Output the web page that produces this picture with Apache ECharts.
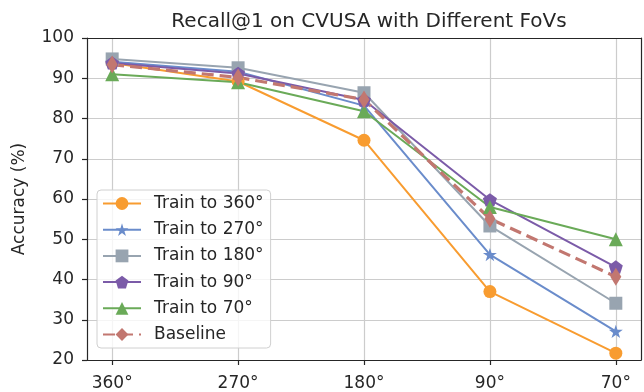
<!DOCTYPE html>
<html>
<head>
<meta charset="utf-8">
<script src="https://cdn.jsdelivr.net/npm/echarts@6/dist/echarts.min.js"></script>
<style>html,body{margin:0;padding:0;background:#fff}#c{width:644px;height:392px}</style>
</head>
<body>
<div id="c"></div>
<script>
const categories = ['360°', '270°', '180°', '90°', '70°'];
const yTicks = [20, 30, 40, 50, 60, 70, 80, 90, 100];
const train360 = [93.8, 89.2, 74.6, 37.0, 21.7];
const train270 = [94.1, 91.6, 83.2, 46.2, 27.1];
const train180 = [94.8, 92.6, 86.4, 53.3, 34.1];
const train90  = [93.8, 91.2, 84.6, 59.8, 43.1];
const train70  = [91.0, 89.0, 81.8, 58.0, 50.0];
const baseline = [93.4, 90.2, 84.7, 55.1, 40.7];

const STAR = 'path://M50,0 L61.23,34.55 L97.55,34.55 L68.17,55.9 L79.39,90.45 L50,69.1 L20.61,90.45 L31.83,55.9 L2.45,34.55 L38.77,34.55 Z';
const PENT = 'path://M50,0 L97.55,34.55 L79.39,90.45 L20.61,90.45 L2.45,34.55 Z';
const FONT = 'DejaVu Sans';
const TXT = '#262626';
const idx = categories.map((c, i) => i);

function mk(name, vals, color, symbol, size, lw, dash) {
  return {
    name: name, type: 'line',
    xAxisIndex: 0, yAxisIndex: 0,
    data: vals.map((v, i) => [i, v]),
    symbol: symbol, symbolSize: size, symbolKeepAspect: true,
    showSymbol: true,
    lineStyle: { color: color, width: lw, type: dash || 'solid' },
    itemStyle: { color: color, borderColor: color, borderWidth: 0, opacity: 1 },
    emphasis: { disabled: true },
    z: 2
  };
}

const frameAxis = {
  axisLine: { show: true, onZero: false, lineStyle: { color: TXT, width: 1.2 } },
  axisTick: { show: false }, axisLabel: { show: false }, splitLine: { show: false }
};

const chart = echarts.init(document.getElementById('c'), null, { renderer: 'canvas' });
chart.setOption({
  animation: false,
  backgroundColor: '#fff',
  textStyle: { fontFamily: FONT, color: TXT },
  title: {
    text: 'Recall@1 on CVUSA with Different FoVs',
    left: 364, top: 7, textAlign: 'center',
    textStyle: { fontFamily: FONT, fontSize: 20, fontWeight: 'normal', color: TXT }
  },
  grid: { left: 87, right: 3, top: 38, bottom: 30, show: false },
  legend: {
    orient: 'vertical', left: 97, top: 190,
    padding: [5, 7, 5, 5],
    itemWidth: 38, itemHeight: 16, itemGap: 9.2,
    backgroundColor: 'rgba(255,255,255,0.8)',
    borderColor: '#d0d0d0', borderWidth: 1, borderRadius: 4,
    textStyle: { fontFamily: FONT, fontSize: 17, color: TXT, lineHeight: 17, padding: [0, 0, 0, 8] },
    data: ['Train to 360°', 'Train to 270°', 'Train to 180°', 'Train to 90°', 'Train to 70°', 'Baseline']
  },
  xAxis: [{
    type: 'value', min: -0.2, max: 4.2,
    axisLine: { show: true, onZero: false, lineStyle: { color: TXT, width: 1.2 } },
    axisTick: { show: true, length: 5, lineStyle: { color: TXT, width: 1.2 }, customValues: idx },
    axisLabel: { customValues: idx, margin: 15, fontFamily: FONT, fontSize: 17, color: TXT,
      formatter: v => categories[Math.round(v)] },
    splitLine: { show: true, lineStyle: { color: '#cccccc', width: 1.2 } }
  }, Object.assign({ type: 'value', min: -0.2, max: 4.2, position: 'top' }, frameAxis)],
  yAxis: [{
    type: 'value', min: yTicks[0], max: yTicks[yTicks.length - 1], interval: 10,
    name: 'Accuracy (%)', nameLocation: 'middle', nameGap: 59,
    nameTextStyle: { fontFamily: FONT, fontSize: 17, color: TXT },
    axisLine: { show: true, onZero: false, lineStyle: { color: TXT, width: 1.2 } },
    axisTick: { show: true, length: 5, lineStyle: { color: TXT, width: 1.2 } },
    axisLabel: { margin: 13, fontFamily: FONT, fontSize: 17, color: TXT },
    splitLine: { show: true, lineStyle: { color: '#cccccc', width: 1.2 } }
  }, Object.assign({ type: 'value', min: yTicks[0], max: yTicks[yTicks.length - 1], interval: 10, position: 'right' }, frameAxis)],
  series: [
    mk('Train to 360°', train360, '#F89C30', 'circle', 13, 2),
    mk('Train to 270°', train270, '#6A8CCB', STAR, 14, 2),
    mk('Train to 180°', train180, '#98A4B0', 'rect', 13, 2),
    mk('Train to 90°', train90, '#7B5BA8', PENT, 14, 2),
    mk('Train to 70°', train70, '#6AAA58', 'triangle', 14, 2),
    mk('Baseline', baseline, '#C27770', 'diamond', [11, 18], 3.2, [12, 6])
  ]
});
</script>
</body>
</html>
